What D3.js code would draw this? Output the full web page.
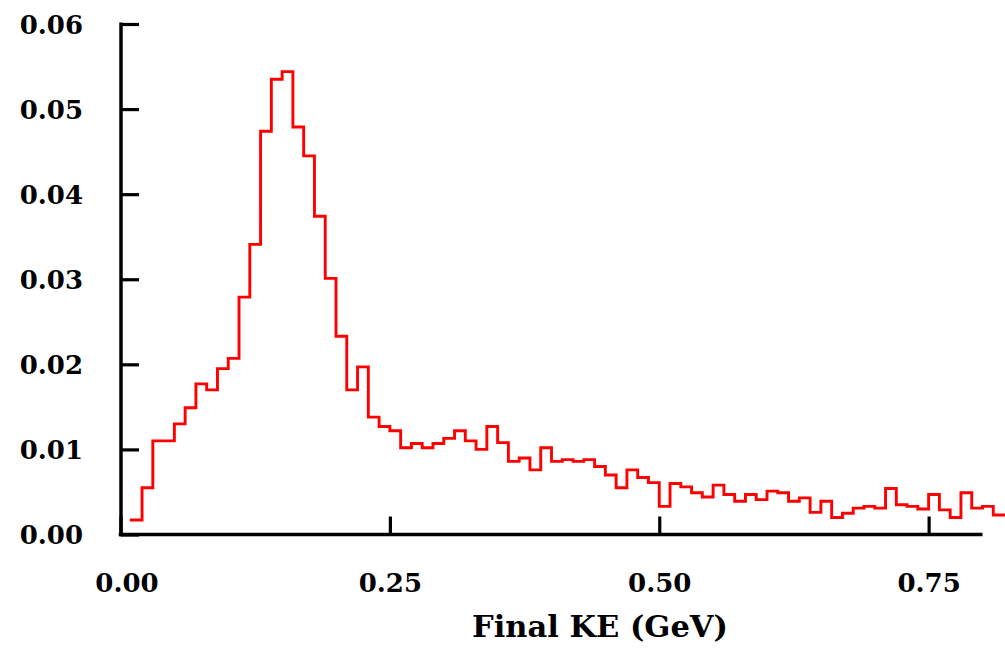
<!DOCTYPE html>
<html>
<head>
<meta charset="utf-8">
<script src="https://cdn.jsdelivr.net/npm/d3@7"></script>
<style>
  html, body { margin: 0; padding: 0; background: #fff; }
  svg { display: block; }
</style>
</head>
<body>
<svg id="chart" width="1005" height="650"></svg>
<script>
// Bin lower edges (GeV), bin width 0.01
const binLow = [0.01,0.02,0.03,0.04,0.05,0.06,0.07,0.08,0.09,0.10,
  0.11,0.12,0.13,0.14,0.15,0.16,0.17,0.18,0.19,0.20,
  0.21,0.22,0.23,0.24,0.25,0.26,0.27,0.28,0.29,0.30,
  0.31,0.32,0.33,0.34,0.35,0.36,0.37,0.38,0.39,0.40,
  0.41,0.42,0.43,0.44,0.45,0.46,0.47,0.48,0.49,0.50,
  0.51,0.52,0.53,0.54,0.55,0.56,0.57,0.58,0.59,0.60,
  0.61,0.62,0.63,0.64,0.65,0.66,0.67,0.68,0.69,0.70,
  0.71,0.72,0.73,0.74,0.75,0.76,0.77,0.78,0.79,0.80,0.81];
const binWidth = 0.01;
const counts = [0.0017,0.0055,0.0110,0.0110,0.0130,0.0149,0.0177,0.0170,0.0195,0.0207,
  0.0279,0.0341,0.0474,0.0535,0.0544,0.0479,0.0445,0.0374,0.0301,0.0233,
  0.0170,0.0197,0.0138,0.0127,0.0122,0.0102,0.0107,0.0102,0.0107,0.0113,
  0.0122,0.0110,0.0100,0.0127,0.0108,0.0086,0.0090,0.0076,0.0102,0.0086,
  0.0088,0.0086,0.0088,0.0080,0.0070,0.0055,0.0076,0.0067,0.0061,0.0033,
  0.0060,0.0056,0.0049,0.0044,0.0058,0.0047,0.0039,0.0047,0.0041,0.0051,
  0.0049,0.0039,0.0043,0.0026,0.0039,0.0020,0.0025,0.0031,0.0033,0.0031,
  0.0054,0.0035,0.0033,0.0030,0.0047,0.0029,0.0020,0.0049,0.0031,0.0033,0.0023];
const xTicks = [0.00, 0.25, 0.50, 0.75];
const yTicks = [0.00, 0.01, 0.02, 0.03, 0.04, 0.05, 0.06];
const xTitle = "Final KE (GeV)";

const svg = d3.select("#chart");
const x = d3.scaleLinear().domain([0, 0.8]).range([120.5, 982.5]);
const y = d3.scaleLinear().domain([0, 0.06]).range([534.5, 24]);
const font = "'DejaVu Serif', serif";

// histogram step line
const pts = binLow.map((b, i) => [b, counts[i]]);
pts.push([binLow[binLow.length - 1] + binWidth, counts[counts.length - 1]]);
const line = d3.line().x(d => x(d[0])).y(d => y(d[1])).curve(d3.curveStepAfter);
svg.append("path").attr("d", line(pts))
  .attr("fill", "none").attr("stroke", "#ff0000").attr("stroke-width", 2.9)
  .attr("stroke-linejoin", "miter").attr("stroke-linecap", "square");

// x axis
const xAxis = d3.axisBottom(x).tickValues(xTicks).tickSize(-18).tickPadding(0)
  .tickFormat(d3.format(".2f"));
const gx = svg.append("g").attr("transform", "translate(0,534.5)").call(xAxis);
gx.select(".domain").attr("d", `M${x(0) - 1.75},0H${x(0.8)}`).attr("stroke", "#000").attr("stroke-width", 3.5);
gx.selectAll(".tick line").attr("stroke", "#000").attr("stroke-width", 3.2);
gx.selectAll(".tick text").attr("font-family", font).attr("font-weight", "bold")
  .attr("font-size", 26).attr("fill", "#000").attr("y", 57).attr("dy", "0")
  .attr("dx", d => d === 0 ? 6 : 0);

// y axis
const yAxis = d3.axisLeft(y).tickValues(yTicks).tickSize(-18).tickPadding(0)
  .tickFormat(d3.format(".2f"));
const gy = svg.append("g").attr("transform", "translate(121,0)").call(yAxis);
gy.select(".domain").attr("d", `M0,${y(0.06) - 1.5}V${y(0) + 1.75}`).attr("stroke", "#000").attr("stroke-width", 3.5);
gy.selectAll(".tick line").attr("stroke", "#000").attr("stroke-width", 3.2);
gy.selectAll(".tick text").attr("font-family", font).attr("font-weight", "bold")
  .attr("font-size", 26).attr("fill", "#000").attr("x", -38).attr("dy", "0.36em");

// x title
svg.append("text").attr("x", 600).attr("y", 637).attr("text-anchor", "middle")
  .attr("font-family", font).attr("font-weight", "bold").attr("font-size", 29)
  .attr("textLength", 256).attr("lengthAdjust", "spacingAndGlyphs")
  .attr("fill", "#000").text(xTitle);
</script>
</body>
</html>
